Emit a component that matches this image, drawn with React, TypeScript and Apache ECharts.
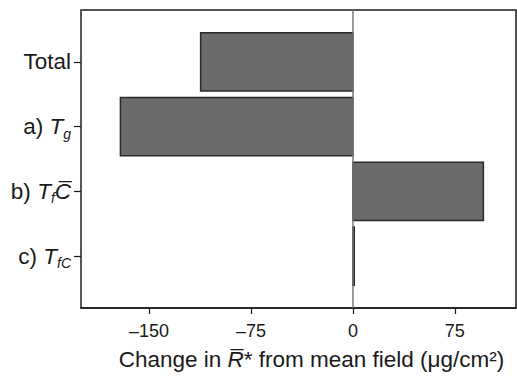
import React, { useEffect, useRef } from "react";
import * as echarts from "echarts";

// Categories (top to bottom) and their positions on the y scale
const categories = ["Total", "a) Tg", "b) TfC\u0305", "c) TfC"];
const positions = [1, 2, 3, 4];
// Change in R* from mean field (µg/cm²)
const values = [-112, -171, 96, 1];
// x tick labels
const xTicks = [-150, -75, 0, 75];
// rich versions of the category labels
const richLabels = [
  "{n|Total}",
  "{n|a) }{i|T}{s|g}",
  "{n|b) }{i|T}{s|f}{i|C\u0305}",
  "{n|c) }{i|T}{s|fC}",
];
const axisTitle = "{n|Change in }{i|R\u0305}{n|* from mean field (\u03bcg/cm\u00b2)}";

const FONT = "'Liberation Sans', Arial, Helvetica, sans-serif";
const INK = "#1a1a1a";

export default function App() {
  const ref = useRef<HTMLDivElement>(null);
  useEffect(() => {
    if (!ref.current) return;
    const chart = echarts.init(ref.current, undefined, { renderer: "svg" });
    chart.setOption({
      animation: false,
      backgroundColor: "#ffffff",
      grid: {
        left: 81,
        right: 1,
        top: 10,
        bottom: 71,
        show: true,
        borderColor: INK,
        borderWidth: 1.5,
      },
      xAxis: {
        type: "value",
        min: -200,
        max: 120,
        position: "bottom",
        axisLine: { show: true, onZero: false, lineStyle: { color: INK, width: 1.5 } },
        axisTick: { show: true, length: 6, customValues: xTicks, lineStyle: { color: INK, width: 1.2 } },
        axisLabel: {
          customValues: xTicks,
          margin: 14,
          fontSize: 18,
          fontFamily: FONT,
          color: INK,
          formatter: (v: number) => (v < 0 ? "\u2013" + Math.abs(v) : String(v)),
        },
        splitLine: { show: false },
        name: axisTitle,
        nameLocation: "middle",
        nameGap: 40,
        nameTextStyle: {
          fontSize: 22.5,
          fontFamily: FONT,
          color: INK,
          padding: [0, 0, 0, 26],
          rich: {
            n: { fontSize: 22.5, fontFamily: FONT, color: INK },
            i: { fontSize: 22.5, fontFamily: FONT, fontStyle: "italic", color: INK },
          },
        },
      },
      yAxis: {
        type: "value",
        min: 0.2,
        max: 4.8,
        inverse: true,
        position: "left",
        axisLine: { show: true, onZero: false, lineStyle: { color: "#5a5a5a", width: 1.5 } },
        axisTick: { show: true, length: 7, customValues: positions, lineStyle: { color: INK, width: 1.2 } },
        axisLabel: {
          customValues: positions,
          margin: 10,
          fontFamily: FONT,
          color: INK,
          formatter: (v: number) => richLabels[positions.indexOf(Math.round(v))] ?? "",
          rich: {
            n: { fontSize: 22.5, fontFamily: FONT, color: INK, lineHeight: 22 },
            i: { fontSize: 22.5, fontFamily: FONT, fontStyle: "italic", color: INK, lineHeight: 22 },
            s: {
              fontSize: 14,
              fontFamily: FONT,
              fontStyle: "italic",
              color: INK,
              lineHeight: 14,
              padding: [14, 0, 0, 0],
            },
          },
        },
        splitLine: { show: false },
      },
      series: [
        {
          type: "custom",
          name: "change",
          encode: { x: 0, y: 1 },
          data: values.map((v, i) => [v, positions[i], categories[i]]),
          renderItem: (params: any, api: any) => {
            const v = api.value(0);
            const p = api.value(1);
            const a = api.coord([0, p]);
            const b = api.coord([v, p]);
            const h = api.size([0, 0.9])[1];
            return {
              type: "rect",
              shape: {
                x: Math.min(a[0], b[0]),
                y: a[1] - h / 2,
                width: Math.abs(b[0] - a[0]),
                height: h,
              },
              style: { fill: "#6b6b6b", stroke: "#2a2a2a", lineWidth: 1.5 },
            };
          },
          markLine: {
            silent: true,
            symbol: "none",
            label: { show: false },
            lineStyle: { color: "#7a7a7a", width: 1.5, type: "solid" },
            data: [{ xAxis: 0 }],
          },
        },
      ],
    });
    return () => chart.dispose();
  }, []);
  return (
    <div
      ref={ref}
      style={{ position: "fixed", left: 0, top: 0, width: 517, height: 379, background: "#fff" }}
    />
  );
}
